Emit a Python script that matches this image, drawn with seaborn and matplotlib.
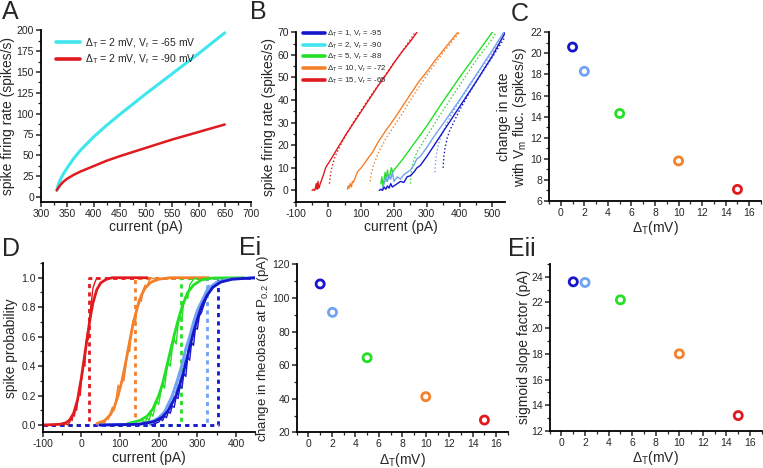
import numpy as np
import pandas as pd
import seaborn as sns
import matplotlib.pyplot as plt
from matplotlib.lines import Line2D
from matplotlib.ticker import MultipleLocator

sns.set_style("ticks")
plt.rcParams['font.family'] = ['Liberation Sans', 'DejaVu Sans']
plt.rcParams['mathtext.default'] = 'regular'
plt.rcParams['axes.unicode_minus'] = False

# colours
BLUE = '#1616cc'
LBLUE = '#70a4f2'
CYAN = '#3fe6ee'
GREEN = '#24e024'
ORANGE = '#f5802a'
RED = '#e01a1e'

# ---------- A: f-I curves ----------
a_current = [330, 333, 337, 342, 350, 362, 375, 400, 425, 450, 500, 550, 600, 650]
a_rate_vr65 = [8, 15, 21, 27, 35, 46, 56, 72, 86, 99, 124, 148, 172, 197]
a_rate_vr90 = [8, 11, 14.5, 18, 22, 26.5, 30.5, 37, 43.5, 49, 59, 69, 78, 87]

# ---------- B: rate vs current ----------
b_red_x = [-50, -45, -42, -40, -37, -35, -32, -30, -27, -25, -20, -15, -10, -5, 0, 25, 50, 75, 100, 125, 150, 175, 200, 225, 250, 270]
b_red_y = [0, 0.5, 0, 1, 3, 0.5, 4, 1, 2, 3, 5, 7, 9.5, 11, 12, 18, 24, 29.5, 35, 40.5, 46, 51, 56.5, 61.5, 66, 70]
b_red_fx = [3, 6, 10, 20, 40, 75, 125, 175, 225, 265]
b_red_fy = [3, 7, 10, 15, 21, 30, 41, 51.5, 61.5, 70]
b_or_x = [58, 60, 63, 66, 70, 73, 76, 80, 85, 90, 100, 110, 122, 135, 150, 175, 200, 225, 250, 275, 300, 325, 350, 375, 395]
b_or_y = [0.5, 2, 1, 3, 1.5, 4, 3.5, 5, 7, 8.5, 10, 12, 14.5, 17, 21, 26.5, 31.5, 37, 42.5, 48, 52.5, 57.5, 62, 66.5, 70]
b_or_fx = [127, 130, 135, 150, 175, 200, 225, 250, 300, 350, 400]
b_or_fy = [4, 7, 10, 16, 23, 28.5, 34, 40, 51, 61, 70]
b_gr_x = [160, 163, 166, 170, 173, 176, 180, 184, 188, 192, 196, 200, 225, 250, 275, 300, 350, 400, 450, 500]
b_gr_y = [3, 6, 2, 5, 8, 4, 9, 5, 7, 10, 8, 9, 13.5, 18.5, 23.5, 28.5, 39.5, 50, 60, 70]
b_gr_fx = [250, 252, 256, 262, 270, 285, 300, 350, 400, 450, 500, 512]
b_gr_fy = [3, 7, 11, 14, 17, 20.5, 24, 35.5, 46.5, 57.5, 67, 70]
b_lb_x = [165, 170, 175, 180, 185, 190, 195, 200, 210, 220, 230, 240, 250, 260, 270, 280, 290, 300, 325, 350, 400, 450, 500, 535]
b_lb_y = [1, 3, 6, 4, 7, 5, 8, 4, 6, 5, 7, 8, 9, 11, 14, 15, 17, 19, 24.5, 29.5, 40, 51, 62, 70]
b_lb_fx = [325, 327, 331, 337, 345, 360, 375, 400, 450, 500, 540]
b_lb_fy = [8, 13, 17, 21, 24.5, 29.5, 33.5, 39.5, 50.5, 61, 70]
b_bl_x = [155, 160, 165, 170, 175, 180, 185, 190, 195, 200, 210, 220, 230, 240, 250, 260, 270, 280, 290, 300, 325, 350, 375, 400, 450, 500, 540]
b_bl_y = [0, 0.5, 0, 1.5, 0.5, 2, 1, 3, 1.5, 2, 3, 4, 3.5, 6, 6.5, 8, 10, 11, 13, 15, 20.5, 26, 31.5, 37, 48, 59.5, 70]
b_bl_fx = [350, 352, 356, 362, 370, 385, 400, 425, 450, 500, 548]
b_bl_fy = [10, 15, 19, 23, 26.5, 31, 35.5, 42, 48, 59, 70]
b_labels = [r'$\Delta_T$ = 1, V$_r$ = -95', r'$\Delta_T$ = 2, V$_r$ = -90', r'$\Delta_T$ = 5, V$_r$ = -88',
            r'$\Delta_T$ = 10, V$_r$ = -72', r'$\Delta_T$ = 15, V$_r$ = -65']

# ---------- C / Ei / Eii: summary points ----------
delta_t = [1, 2, 5, 10, 15]
delta_t_ei = [1, 2.05, 5, 10, 15]
rate_change = [20.6, 18.3, 14.3, 9.8, 7.1]
rheobase_change = [108.3, 91.4, 64.4, 41.2, 27.3]
slope_factor = [23.6, 23.55, 22.2, 18.0, 13.2]
point_colors = [BLUE, LBLUE, GREEN, ORANGE, RED]

# ---------- D: spike probability ----------
d_red_x = [-45, -40, -35, -30, -27, -24, -21, -18, -15, -12, -9, -6, -3, 0, 3, 6, 9, 12, 15, 18, 21, 24, 27, 30, 35, 40, 45]
d_red_p = [0, 0.01, 0.0, 0.02, 0.05, 0.03, 0.08, 0.06, 0.12, 0.10, 0.18, 0.22, 0.20, 0.30, 0.36, 0.42, 0.40, 0.55, 0.62, 0.58, 0.72, 0.80, 0.86, 0.93, 0.97, 1.0, 1.0]
d_or_x = [45, 50, 55, 60, 65, 70, 75, 80, 85, 90, 95, 100, 105, 110, 115, 120, 125, 130, 135, 140, 145, 150, 155, 160, 165, 170, 175, 180, 190, 200]
d_or_p = [0.0, 0.01, 0.02, 0.01, 0.05, 0.04, 0.08, 0.12, 0.10, 0.18, 0.27, 0.24, 0.32, 0.30, 0.40, 0.52, 0.50, 0.66, 0.72, 0.70, 0.82, 0.86, 0.84, 0.92, 0.95, 0.94, 0.98, 1.0, 0.99, 1.0]
d_gr_x = [150, 155, 160, 165, 170, 175, 180, 185, 190, 195, 200, 205, 210, 215, 220, 225, 230, 235, 240, 245, 250, 255, 260, 265, 270, 275, 280, 285, 290, 300]
d_gr_p = [0.0, 0.01, 0.03, 0.02, 0.05, 0.03, 0.08, 0.06, 0.12, 0.16, 0.14, 0.22, 0.28, 0.25, 0.36, 0.42, 0.40, 0.52, 0.58, 0.55, 0.68, 0.74, 0.72, 0.84, 0.88, 0.86, 0.95, 0.97, 0.99, 1.0]
d_lb_x = [175, 185, 195, 200, 205, 210, 215, 220, 225, 230, 235, 240, 245, 250, 255, 260, 265, 270, 275, 280, 285, 290, 295, 300, 310, 320, 330]
d_lb_p = [0.0, 0.02, 0.03, 0.05, 0.04, 0.07, 0.06, 0.11, 0.10, 0.16, 0.15, 0.23, 0.22, 0.31, 0.30, 0.41, 0.40, 0.52, 0.50, 0.61, 0.60, 0.70, 0.69, 0.77, 0.84, 0.9, 0.95]
d_bl_x = [180, 190, 200, 205, 210, 215, 220, 225, 230, 235, 240, 245, 250, 255, 260, 265, 270, 275, 280, 285, 290, 295, 300, 305, 310, 320, 330, 340]
d_bl_p = [0.0, 0.01, 0.02, 0.04, 0.03, 0.06, 0.05, 0.09, 0.08, 0.13, 0.12, 0.19, 0.18, 0.26, 0.25, 0.35, 0.33, 0.46, 0.44, 0.56, 0.54, 0.66, 0.65, 0.74, 0.76, 0.84, 0.9, 0.94]
# sigmoid fits
f_red_x = [-100, -55, -40, -30, -20, -10, 0, 5, 10, 15, 20, 25, 30, 40, 50, 65, 80, 170]
f_red_p = [0, 0.005, 0.015, 0.035, 0.08, 0.17, 0.32, 0.41, 0.5, 0.59, 0.68, 0.76, 0.83, 0.92, 0.965, 0.99, 1.0, 1.0]
f_or_x = [40, 60, 75, 85, 95, 105, 115, 120, 125, 135, 145, 155, 165, 180, 200, 230, 330]
f_or_p = [0.01, 0.03, 0.07, 0.12, 0.2, 0.3, 0.43, 0.5, 0.57, 0.7, 0.8, 0.88, 0.93, 0.97, 0.99, 1.0, 1.0]
f_gr_x = [120, 150, 170, 185, 200, 210, 220, 230, 240, 250, 260, 275, 290, 310, 340, 420]
f_gr_p = [0.01, 0.03, 0.06, 0.11, 0.2, 0.28, 0.39, 0.5, 0.61, 0.71, 0.8, 0.9, 0.95, 0.985, 0.998, 1.0]
f_lb_x = [45, 150, 180, 200, 215, 235, 250, 260, 270, 280, 290, 300, 315, 330, 350, 380, 450]
f_lb_p = [0, 0.007, 0.02, 0.05, 0.09, 0.2, 0.32, 0.41, 0.52, 0.6, 0.7, 0.78, 0.86, 0.93, 0.97, 0.99, 1.0]
f_bl_x = [48, 150, 190, 210, 225, 245, 260, 270, 280, 290, 300, 310, 325, 340, 360, 390, 450]
f_bl_p = [0, 0.005, 0.025, 0.055, 0.1, 0.2, 0.32, 0.42, 0.53, 0.63, 0.72, 0.8, 0.88, 0.935, 0.97, 0.99, 1.0]
# deterministic thresholds (step functions)
d_threshold = [20, 139, 258, 326, 352]
d_step_colors = [RED, ORANGE, GREEN, LBLUE, BLUE]

TICK = 7.5
LABEL = 10

fig = plt.figure(figsize=(7.63, 4.68), dpi=100)


def px_axes(l, t, r, b):
    W, H = 763.0, 468.0
    return fig.add_axes([l / W, (H - b) / H, (r - l) / W, (b - t) / H])


def style(ax, xmaj, xmin, ymaj, ymin):
    sns.despine(ax=ax)
    for s in ('left', 'bottom'):
        ax.spines[s].set_linewidth(1.3)
        ax.spines[s].set_color('black')
    ax.xaxis.set_major_locator(MultipleLocator(xmaj))
    ax.xaxis.set_minor_locator(MultipleLocator(xmin))
    ax.yaxis.set_major_locator(MultipleLocator(ymaj))
    ax.yaxis.set_minor_locator(MultipleLocator(ymin))
    ax.tick_params(which='major', direction='out', length=3.5, width=1.1, labelsize=TICK, pad=1.5)
    ax.tick_params(which='minor', direction='out', length=2, width=0.9)


def line(ax, x, y, c, lw=1.0, ls='-'):
    sns.lineplot(x=x, y=y, color=c, lw=lw, ls=ls, ax=ax, estimator=None, sort=False)


def rings(ax, x, y):
    sns.scatterplot(x=x, y=y, hue=list(range(len(x))), palette=point_colors, s=34,
                    linewidth=2.0, legend=False, ax=ax, zorder=3)
    coll = ax.collections[-1]
    coll.set_edgecolors(point_colors)
    coll.set_facecolors('none')


def panel(label, x, y):
    fig.text(x / 763, 1 - y / 468, label, fontsize=18, va='top', ha='left')


# ----- A -----
ax = px_axes(41, 29.5, 251, 202)
line(ax, a_current, a_rate_vr65, CYAN, lw=2.2)
line(ax, a_current, a_rate_vr90, RED, lw=1.8)
ax.set_xlim(300, 700)
ax.set_ylim(-6, 201)
style(ax, 50, 25, 25, 12.5)
ax.set_xlabel('current (pA)', fontsize=LABEL, labelpad=1)
ax.set_ylabel('spike firing rate (spikes/s)', fontsize=LABEL, labelpad=1)
hA = [Line2D([], [], color=CYAN, lw=2.6), Line2D([], [], color=RED, lw=2.6)]
ax.legend(hA, [r'$\Delta_T$ = 2 mV, V$_r$ = -65 mV', r'$\Delta_T$ = 2 mV, V$_r$ = -90 mV'],
          loc='upper left', bbox_to_anchor=(0.05, 0.985), frameon=False, fontsize=7.5,
          handlelength=2.3, handletextpad=0.5, labelspacing=0.25, borderaxespad=0)
panel('A', 2, 0)

# ----- B -----
ax = px_axes(295.7, 32.3, 505.4, 201.7)
line(ax, b_red_x, b_red_y, RED)
line(ax, b_red_fx, b_red_fy, RED, ls=':')
line(ax, b_or_x, b_or_y, ORANGE)
line(ax, b_or_fx, b_or_fy, ORANGE, ls=':')
line(ax, b_gr_x, b_gr_y, GREEN)
line(ax, b_gr_fx, b_gr_fy, GREEN, ls=':')
line(ax, b_lb_x, b_lb_y, LBLUE)
line(ax, b_lb_fx, b_lb_fy, LBLUE, ls=':')
line(ax, b_bl_x, b_bl_y, BLUE)
line(ax, b_bl_fx, b_bl_fy, BLUE, ls=':')
ax.set_xlim(-100, 540)
ax.set_ylim(-5, 70)
style(ax, 100, 50, 10, 5)
ax.set_xlabel('current (pA)', fontsize=LABEL, labelpad=1)
ax.set_ylabel('spike firing rate (spikes/s)', fontsize=LABEL, labelpad=1)
hB = [Line2D([], [], color=c, lw=2.6) for c in [BLUE, CYAN, GREEN, ORANGE, RED]]
ax.legend(hB, b_labels, loc='upper left', bbox_to_anchor=(0.02, 1.04), frameon=False,
          fontsize=5.6, handlelength=2.8, handletextpad=0.3, labelspacing=0.2, borderaxespad=0)
panel('B', 250, 0)

# ----- C -----
ax = px_axes(549, 32.3, 761, 201)
rings(ax, delta_t, rate_change)
ax.set_xlim(-1, 17)
ax.set_ylim(6, 22)
style(ax, 2, 1, 2, 1)
ax.set_xlabel(r'$\Delta_T$(mV)', fontsize=LABEL, labelpad=1)
ax.set_ylabel('change in rate\nwith V$_m$ fluc. (spikes/s)', fontsize=LABEL, labelpad=1, linespacing=1.0)
panel('C', 511, 2)

# ----- D -----
ax = px_axes(42.7, 263, 255.4, 432.4)
for thr, c in zip(d_threshold, d_step_colors):
    ax.plot([-100, thr, thr, 450], [0, 0, 1, 1], color=c, lw=2.0, ls=(0, (1.5, 1.5)))
line(ax, f_red_x, f_red_p, RED, lw=2.0)
line(ax, d_red_x, d_red_p, RED, lw=1.0)
line(ax, f_or_x, f_or_p, ORANGE, lw=2.0)
line(ax, d_or_x, d_or_p, ORANGE, lw=1.0)
line(ax, f_gr_x, f_gr_p, GREEN, lw=2.0)
line(ax, d_gr_x, d_gr_p, GREEN, lw=1.0)
line(ax, f_lb_x, f_lb_p, LBLUE, lw=2.0)
line(ax, d_lb_x, d_lb_p, LBLUE, lw=1.0)
line(ax, f_bl_x, f_bl_p, BLUE, lw=2.0)
line(ax, d_bl_x, d_bl_p, BLUE, lw=1.0)
ax.set_xlim(-100, 450)
ax.set_ylim(-0.05, 1.1)
style(ax, 100, 50, 0.2, 0.1)
ax.set_xlabel('current (pA)', fontsize=LABEL, labelpad=1)
ax.set_ylabel('spike probability', fontsize=LABEL, labelpad=2)
panel('D', 2, 237)

# ----- Ei -----
ax = px_axes(296.7, 264.3, 507.9, 432.3)
rings(ax, delta_t_ei, rheobase_change)
ax.set_xlim(-1, 17)
ax.set_ylim(20, 120)
style(ax, 2, 1, 20, 10)
ax.set_xlabel(r'$\Delta_T$(mV)', fontsize=LABEL, labelpad=1)
ax.set_ylabel('change in rheobase at P$_{0.2}$ (pA)', fontsize=9.5, labelpad=1)
panel('Ei', 239, 236)

# ----- Eii -----
ax = px_axes(549.7, 263.8, 761.8, 431)
rings(ax, delta_t, slope_factor)
ax.set_xlim(-1, 17)
ax.set_ylim(12, 25)
style(ax, 2, 1, 2, 1)
ax.set_xlabel(r'$\Delta_T$(mV)', fontsize=LABEL, labelpad=1)
ax.set_ylabel('sigmoid slope factor (pA)', fontsize=LABEL, labelpad=0)
panel('Eii', 508, 237)

fig.savefig('out.png', dpi=100)
